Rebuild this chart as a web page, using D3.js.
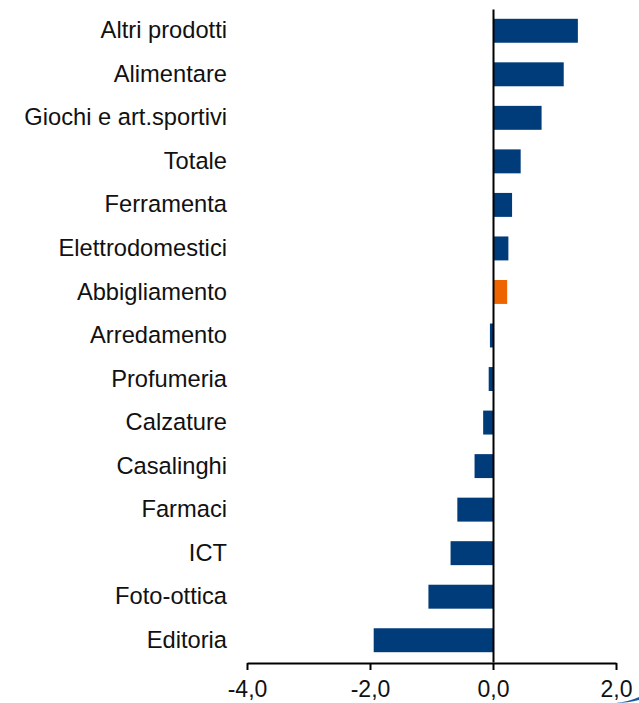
<!DOCTYPE html>
<html>
<head>
<meta charset="utf-8">
<script src="https://cdn.jsdelivr.net/npm/d3@7"></script>
<style>
    body { margin: 0; background: #fff; }
    svg { display: block; font-family: "Liberation Sans", Arial, sans-serif; }
</style>
</head>
<body>
<div id="chart"></div>
<script>
// Categories, top to bottom
const categories = [
    'Altri prodotti', 'Alimentare', 'Giochi e art.sportivi', 'Totale', 'Ferramenta',
    'Elettrodomestici', 'Abbigliamento', 'Arredamento', 'Profumeria', 'Calzature',
    'Casalinghi', 'Farmaci', 'ICT', 'Foto-ottica', 'Editoria'
];
const values = [1.38, 1.15, 0.79, 0.45, 0.31, 0.25, 0.23, -0.05, -0.07, -0.16, -0.30, -0.58, -0.69, -1.05, -1.94];
const highlighted = ['Abbigliamento'];
const xTicks = [-4, -2, 0, 2];

const data = categories.map((c, i) => ({ name: c, value: values[i] }));

const width = 639, height = 703;

const svg = d3.select('#chart')
    .append('svg')
    .attr('width', width)
    .attr('height', height);

// Scales
const x = d3.scaleLinear()
    .domain([-4, 2])
    .range([247, 616]);

const y = d3.scaleBand()
    .domain(categories)
    .range([9, 662])
    .paddingInner(0.45)
    .paddingOuter(0.225);

// Bars
svg.append('g')
    .selectAll('rect')
    .data(data)
    .enter().append('rect')
    .attr('x', d => x(Math.min(0, d.value)))
    .attr('y', d => y(d.name))
    .attr('width', d => Math.abs(x(d.value) - x(0)))
    .attr('height', y.bandwidth())
    .attr('fill', d => highlighted.includes(d.name) ? '#ee6500' : '#003b7a');

// Category axis at zero, labels pushed out to the left
const yAxis = svg.append('g')
    .attr('transform', `translate(${x(0)},0)`)
    .call(d3.axisLeft(y).tickSize(0).tickPadding(x(0) - 227));
yAxis.select('.domain').attr('stroke', '#000').attr('stroke-width', 2);
yAxis.selectAll('text')
    .attr('dy', '0.32em')
    .style('font-size', '23.7px')
    .style('fill', '#111');

// Value axis
const xAxis = svg.append('g')
    .attr('transform', 'translate(0,663)')
    .call(d3.axisBottom(x)
        .tickValues(xTicks)
        .tickSize(7)
        .tickSizeOuter(0)
        .tickPadding(11)
        .tickFormat(d => d.toFixed(1).replace('.', ',')));
xAxis.select('.domain').attr('stroke', '#000').attr('stroke-width', 2);
xAxis.selectAll('.tick line').attr('stroke', '#000').attr('stroke-width', 2);
xAxis.selectAll('text')
    .style('font-size', '23px')
    .style('fill', '#111');

// Logo fragment in the bottom-right corner
svg.append('path')
    .attr('d', 'M615,703 Q628,702 639,697 L639,700 Q628,703 615,703 Z')
    .attr('fill', '#1f56a0');
</script>
</body>
</html>
